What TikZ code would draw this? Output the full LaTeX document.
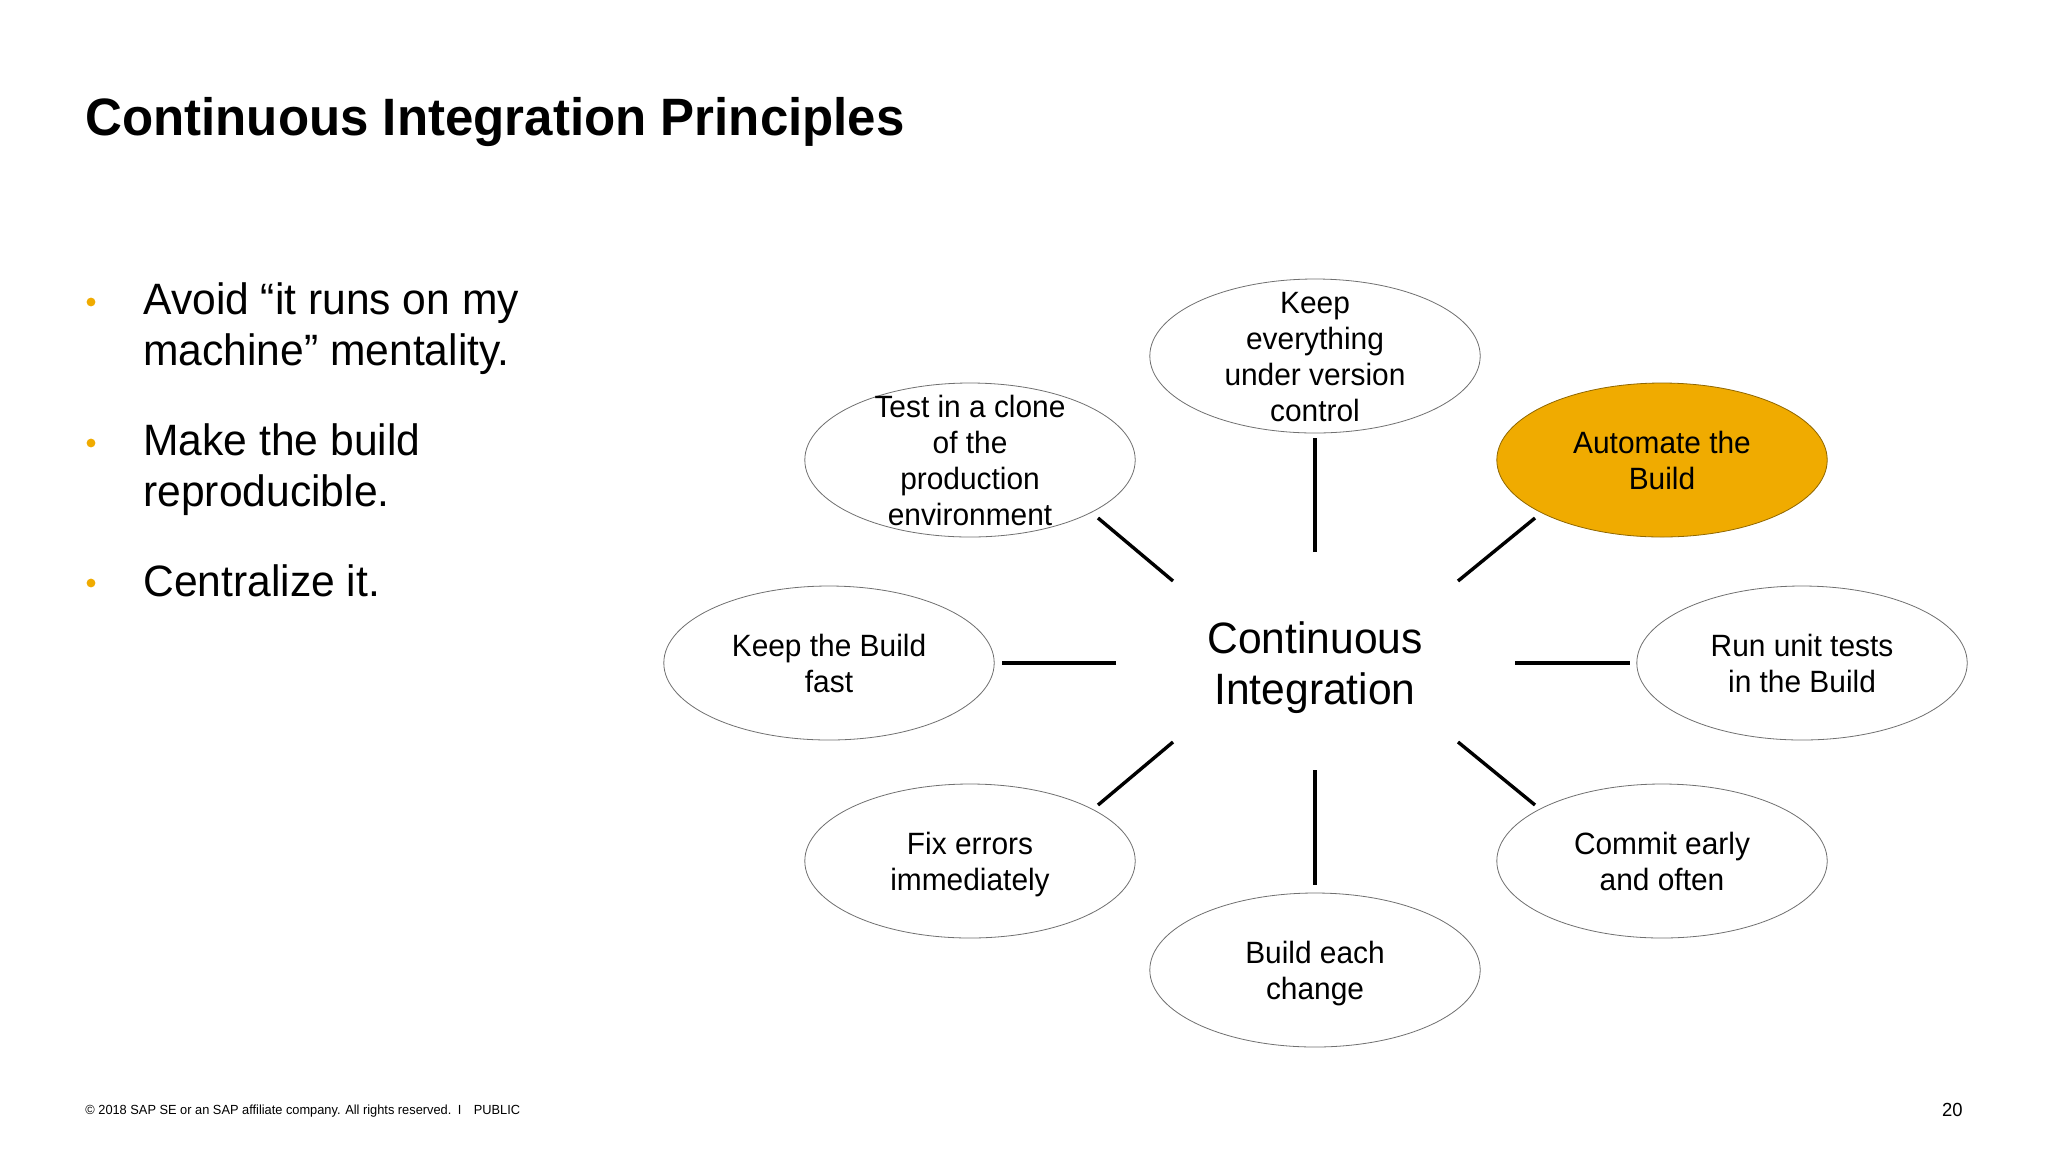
\documentclass[tikz,border=0pt]{standalone}
\usepackage{fontspec}
\setmainfont[FakeStretch=0.97]{Liberation Sans}
\usetikzlibrary{shapes.geometric}
\definecolor{gold}{HTML}{F0AB00}
\definecolor{ringc}{HTML}{707070}
\tikzset{
 x=0.5pt,y=-0.5pt,
 oval/.style={ellipse,draw=ringc,line width=0.4pt,minimum width=165.2pt,minimum height=77pt,inner sep=0pt},
 txt/.style={align=center,inner sep=0pt,yshift=-2pt,font=\fontsize{15.4}{18}\selectfont,text=black},
 spoke/.style={line width=1.7pt,black},
 bullet/.style={anchor=base west,align=left,inner sep=0pt,font=\fontsize{21.95}{25.6}\selectfont},
 dotb/.style={circle,fill=gold,inner sep=0pt,minimum size=4.4pt}
}
\begin{document}
\begin{tikzpicture}
\useasboundingbox (0,0) rectangle (2048,1152);
\fill[white] (0,0) rectangle (2048,1152);
\node[anchor=base west,inner sep=0pt,font=\fontsize{26.3}{30}\selectfont\bfseries] (title) at (85,135) {Continuous Integration Principles};
\node[dotb] (d1) at (91,302) {};
\node[dotb] (d2) at (91,443) {};
\node[dotb] (d3) at (91,583) {};
\node[bullet] (b1) at (143,314) {Avoid “it runs on my};
\node[bullet] (b1b) at (143,365) {machine” mentality.};
\node[bullet] (b2) at (143,455) {Make the build};
\node[bullet] (b2b) at (143,506) {reproducible.};
\node[bullet] (b3) at (143,596) {Centralize it.};

\node[oval] (top) at (1315,356) {};
\node[oval] (tl) at (970,460) {};
\node[oval,fill=gold,draw=gold!60!black] (tr) at (1662,460) {};
\node[oval] (l) at (829,663) {};
\node[oval] (r) at (1802,663) {};
\node[oval] (bl) at (970,861) {};
\node[oval] (br) at (1662,861) {};
\node[oval] (bot) at (1315,970) {};
\node[txt] (toptxt) at (top.center) {\strut Keep\\everything\\under version\\control\strut};
\node[txt] (tltxt) at (tl.center) {\strut Test in a clone\\of the\\production\\environment\strut};
\node[txt] (trtxt) at (tr.center) {\strut Automate the\\Build\strut};
\node[txt] (ltxt) at (l.center) {\strut Keep the Build\\fast\strut};
\node[txt] (rtxt) at (r.center) {\strut Run unit tests\\in the Build\strut};
\node[txt] (bltxt) at (bl.center) {\strut Fix errors\\immediately\strut};
\node[txt] (brtxt) at (br.center) {\strut Commit early\\and often\strut};
\node[txt] (bottxt) at (bot.center) {\strut Build each\\change\strut};
\node[align=center,inner sep=0pt,font=\fontsize{21.95}{25.6}\selectfont] (c) at (1315,668) {Continuous\\Integration};

\coordinate (c1) at (1315,552); \coordinate (c2) at (1173,581); \coordinate (c3) at (1458,581);
\coordinate (c4) at (1116,663); \coordinate (c5) at (1515,663);
\coordinate (c6) at (1173,742); \coordinate (c7) at (1458,742); \coordinate (c8) at (1315,770);
\coordinate (t1) at (1315,438); \coordinate (t2) at (1098,518); \coordinate (t3) at (1535,518);
\coordinate (t4) at (1002,663); \coordinate (t5) at (1630,663);
\coordinate (t6) at (1098,805); \coordinate (t7) at (1535,805); \coordinate (t8) at (1315,885);
\foreach \i in {1,...,8} \draw[spoke] (c\i) -- (t\i);

\node[anchor=base west,inner sep=0pt,font=\fontsize{6.6}{8}\selectfont] (foot) at (85,1114) {© 2018 SAP SE or an SAP affiliate company. All rights reserved.\enspace I\enspace\, PUBLIC};
\node[anchor=base east,inner sep=0pt,font=\fontsize{9.5}{11}\selectfont] (page) at (1963,1116) {20};
\end{tikzpicture}
\end{document}
